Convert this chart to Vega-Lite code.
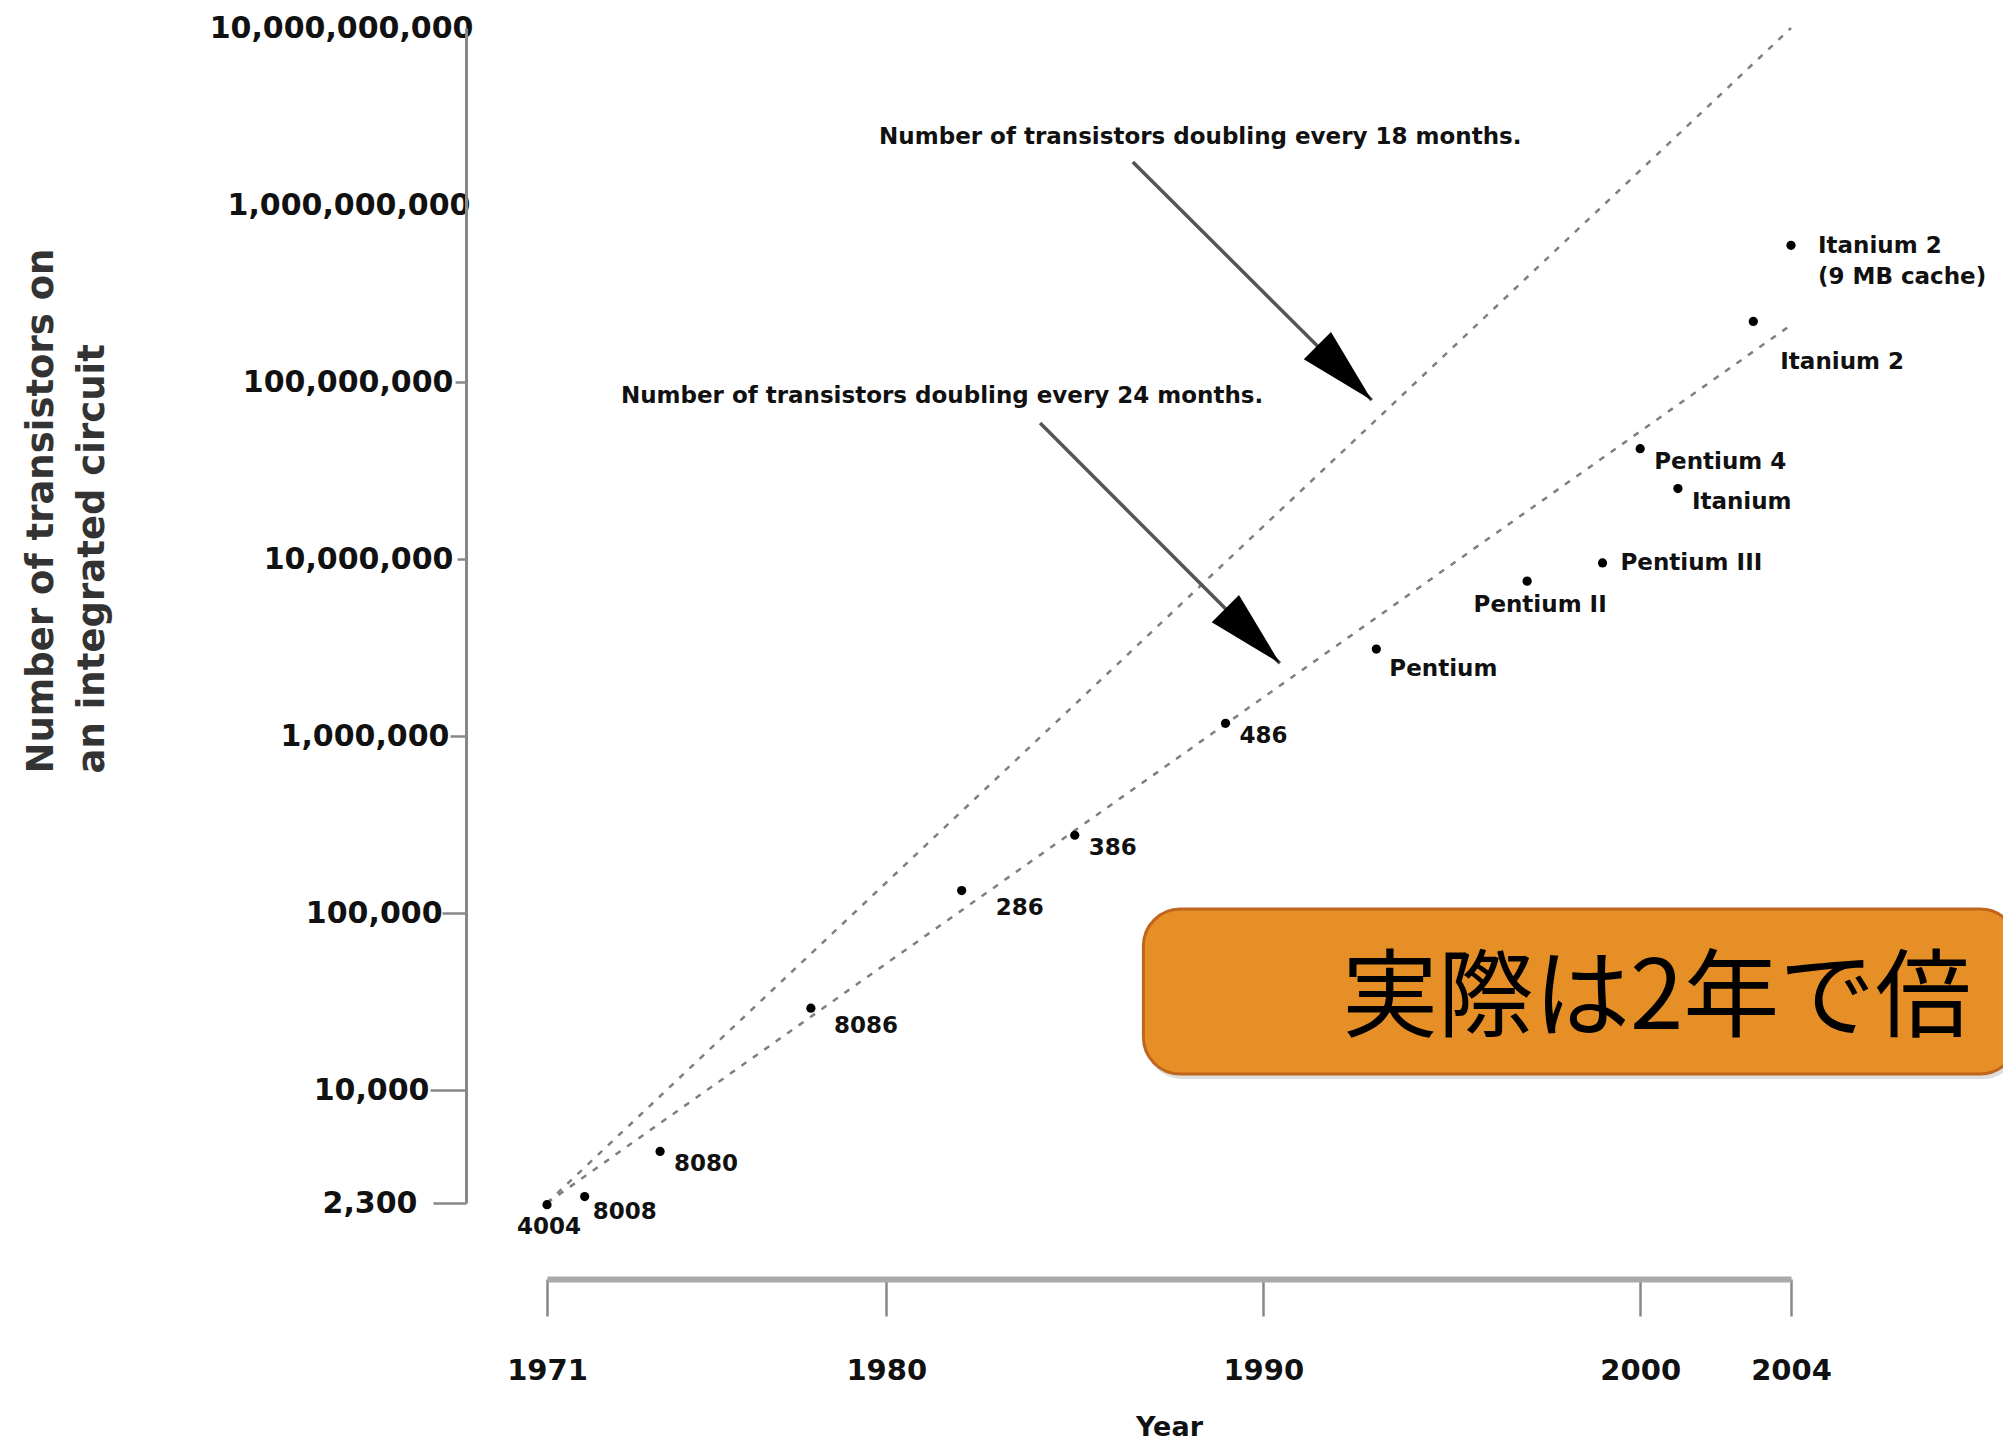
{
  "$schema": "https://vega.github.io/schema/vega-lite/v6.json",
  "width": 1244,
  "height": 1175,
  "autosize": {"type": "none"},
  "padding": {"left": 547, "top": 28, "right": 212, "bottom": 240},
  "background": "white",
  "config": {"view": {"stroke": null}, "font": "DejaVu Sans"},
  "datasets": {
    "cpus": [
      {"name": "4004", "year": 1971, "count": 2250},
      {"name": "8008", "year": 1972, "count": 2500},
      {"name": "8080", "year": 1974, "count": 4500},
      {"name": "8086", "year": 1978, "count": 29000},
      {"name": "286", "year": 1982, "count": 134000},
      {"name": "386", "year": 1985, "count": 275000},
      {"name": "486", "year": 1989, "count": 1180000},
      {"name": "Pentium", "year": 1993, "count": 3100000},
      {"name": "Pentium II", "year": 1997, "count": 7500000},
      {"name": "Pentium III", "year": 1999, "count": 9500000},
      {"name": "Pentium 4", "year": 2000, "count": 42000000},
      {"name": "Itanium", "year": 2001, "count": 25000000},
      {"name": "Itanium 2", "year": 2003, "count": 220000000},
      {"name": "Itanium 2\n(9 MB cache)", "year": 2004, "count": 592000000}
    ],
    "trend": [
      {"series": "18 months", "year": 1971, "count": 2300},
      {"series": "18 months", "year": 2004, "count": 10000000000},
      {"series": "24 months", "year": 1971, "count": 2300},
      {"series": "24 months", "year": 2004, "count": 210000000}
    ],
    "arrows": [
      {"arrow": "18 months", "part": "start", "year": 1986.54, "count": 1750000000},
      {"arrow": "18 months", "part": "tip", "year": 1992.88, "count": 79000000},
      {"arrow": "24 months", "part": "start", "year": 1984.08, "count": 58600000},
      {"arrow": "24 months", "part": "tip", "year": 1990.44, "count": 2580000}
    ],
    "notes": [
      {"kind": "note", "text": "Number of transistors doubling every 18 months.", "year": 1979.81, "count": 2420000000},
      {"kind": "note", "text": "Number of transistors doubling every 24 months.", "year": 1972.96, "count": 83400000},
      {"kind": "callout", "text": "実際は2年で倍", "year": 1992.09, "count": 32200}
    ],
    "box": [
      {"year": 1986.82, "year2": 2010, "count": 105300, "count2": 12310}
    ]
  },
  "encoding": {
    "x": {
      "field": "year",
      "type": "quantitative",
      "scale": {"domain": [1971, 2004], "nice": false, "zero": false},
      "axis": {
        "values": [1971, 1980, 1990, 2000, 2004],
        "format": "d",
        "offset": 76,
        "grid": false,
        "domainColor": "#aaaaaa",
        "domainWidth": 6,
        "tickColor": "#888888",
        "tickWidth": 2.5,
        "tickSize": 37,
        "labelPadding": 40,
        "labelFontSize": 29,
        "labelFontWeight": "bold",
        "labelColor": "#111111",
        "labelFlush": false,
        "labelOverlap": false,
        "title": "Year",
        "titleFontSize": 27,
        "titleFontWeight": "bold",
        "titleColor": "#111111",
        "titlePadding": 29
      }
    },
    "y": {
      "field": "count",
      "type": "quantitative",
      "scale": {"type": "log", "domain": [2300, 10000000000], "nice": false},
      "axis": {
        "values": [2300, 10000, 100000, 1000000, 10000000, 100000000, 1000000000, 10000000000],
        "format": ",d",
        "offset": 81,
        "grid": false,
        "domainColor": "#888888",
        "domainWidth": 3,
        "tickColor": "#888888",
        "tickWidth": 2.5,
        "tickSize": {
          "condition": [
            {"test": "datum.value > 5e8", "value": 0},
            {"test": "datum.value > 5e7", "value": 11},
            {"test": "datum.value > 5e6", "value": 9},
            {"test": "datum.value > 5e5", "value": 16},
            {"test": "datum.value > 5e4", "value": 24},
            {"test": "datum.value > 5e3", "value": 36}
          ],
          "value": 33
        },
        "labelPadding": {
          "condition": [
            {"test": "datum.value > 5e9", "value": -7},
            {"test": "datum.value > 5e8", "value": -4},
            {"test": "datum.value > 5e7", "value": 2},
            {"test": "datum.value > 5e6", "value": 4},
            {"test": "datum.value > 5e5", "value": 1},
            {"test": "datum.value > 5e4", "value": 0},
            {"test": "datum.value > 5e3", "value": 1}
          ],
          "value": 16
        },
        "labelFontSize": 30,
        "labelFontWeight": "bold",
        "labelColor": "#111111",
        "labelLimit": 600,
        "labelFlush": false,
        "labelOverlap": false,
        "title": ["Number of transistors on", "an integrated circuit"],
        "titleFontSize": 37,
        "titleFontWeight": "bold",
        "titleColor": "#333333",
        "titleAngle": 270,
        "titleAlign": "left",
        "titleBaseline": "middle",
        "titleLineHeight": 51,
        "titleLimit": 1000,
        "titleX": -425,
        "titleY": 745
      }
    }
  },
  "layer": [
    {
      "data": {"name": "trend"},
      "mark": {"type": "line", "stroke": "#7f7f7f", "strokeWidth": 2.5, "strokeDash": [6, 8]},
      "encoding": {"detail": {"field": "series"}}
    },
    {
      "data": {"name": "arrows"},
      "mark": {"type": "line", "stroke": "#555555", "strokeWidth": 3.5},
      "encoding": {"detail": {"field": "arrow"}}
    },
    {
      "data": {"name": "arrows"},
      "transform": [{"filter": "datum.part == 'tip'"}],
      "mark": {"type": "point", "shape": "M0,0L-1,-0.25L-1,0.25Z", "size": 23716, "angle": 45, "filled": true, "color": "#000000", "opacity": 1, "strokeWidth": 0}
    },
    {
      "data": {"name": "notes"},
      "transform": [{"filter": "datum.kind == 'note'"}],
      "mark": {"type": "text", "align": "left", "baseline": "middle", "fontSize": 23, "fontWeight": "bold", "color": "#111111"},
      "encoding": {"text": {"field": "text"}}
    },
    {
      "data": {"name": "cpus"},
      "mark": {"type": "point", "shape": "circle", "filled": true, "color": "#000000", "size": 85, "opacity": 1}
    },
    {
      "data": {"name": "cpus"},
      "transform": [{"filter": {"field": "name", "oneOf": ["8080", "386", "486", "Pentium 4", "Itanium"]}}],
      "mark": {"type": "text", "align": "left", "baseline": "middle", "dx": 14, "dy": 13, "fontSize": 23, "fontWeight": "bold", "color": "#111111"},
      "encoding": {"text": {"field": "name"}}
    },
    {
      "data": {"name": "cpus"},
      "transform": [{"filter": {"field": "name", "equal": "8008"}}],
      "mark": {"type": "text", "align": "left", "baseline": "middle", "dx": 8, "dy": 15, "fontSize": 23, "fontWeight": "bold", "color": "#111111"},
      "encoding": {"text": {"field": "name"}}
    },
    {
      "data": {"name": "cpus"},
      "transform": [{"filter": {"field": "name", "equal": "8086"}}],
      "mark": {"type": "text", "align": "left", "baseline": "middle", "dx": 23, "dy": 18, "fontSize": 23, "fontWeight": "bold", "color": "#111111"},
      "encoding": {"text": {"field": "name"}}
    },
    {
      "data": {"name": "cpus"},
      "transform": [{"filter": {"field": "name", "equal": "Pentium"}}],
      "mark": {"type": "text", "align": "left", "baseline": "middle", "dx": 13, "dy": 20, "fontSize": 23, "fontWeight": "bold", "color": "#111111"},
      "encoding": {"text": {"field": "name"}}
    },
    {
      "data": {"name": "cpus"},
      "transform": [{"filter": {"field": "name", "equal": "286"}}],
      "mark": {"type": "text", "align": "left", "baseline": "middle", "dx": 34, "dy": 17, "fontSize": 23, "fontWeight": "bold", "color": "#111111"},
      "encoding": {"text": {"field": "name"}}
    },
    {
      "data": {"name": "cpus"},
      "transform": [{"filter": {"field": "name", "equal": "4004"}}],
      "mark": {"type": "text", "align": "center", "baseline": "middle", "dx": 2, "dy": 22, "fontSize": 23, "fontWeight": "bold", "color": "#111111"},
      "encoding": {"text": {"field": "name"}}
    },
    {
      "data": {"name": "cpus"},
      "transform": [{"filter": {"field": "name", "equal": "Pentium II"}}],
      "mark": {"type": "text", "align": "center", "baseline": "middle", "dx": 13, "dy": 24, "fontSize": 23, "fontWeight": "bold", "color": "#111111"},
      "encoding": {"text": {"field": "name"}}
    },
    {
      "data": {"name": "cpus"},
      "transform": [{"filter": {"field": "name", "equal": "Pentium III"}}],
      "mark": {"type": "text", "align": "left", "baseline": "middle", "dx": 18, "dy": 0, "fontSize": 23, "fontWeight": "bold", "color": "#111111"},
      "encoding": {"text": {"field": "name"}}
    },
    {
      "data": {"name": "cpus"},
      "transform": [{"filter": {"field": "name", "equal": "Itanium 2"}}],
      "mark": {"type": "text", "align": "left", "baseline": "middle", "dx": 27, "dy": 41, "fontSize": 23, "fontWeight": "bold", "color": "#111111"},
      "encoding": {"text": {"field": "name"}}
    },
    {
      "data": {"name": "cpus"},
      "transform": [{"filter": "indexof(datum.name, 'cache') >= 0"}],
      "mark": {"type": "text", "align": "left", "baseline": "middle", "dx": 27, "dy": 1, "fontSize": 23, "fontWeight": "bold", "color": "#111111", "lineBreak": "\n", "lineHeight": 31},
      "encoding": {"text": {"field": "name"}}
    },
    {
      "data": {"name": "box"},
      "mark": {"type": "rect", "fill": "#000000", "opacity": 0.13, "cornerRadius": 37, "xOffset": 2, "x2Offset": 2, "yOffset": 5, "y2Offset": 5},
      "encoding": {"x2": {"field": "year2"}, "y2": {"field": "count2"}}
    },
    {
      "data": {"name": "box"},
      "mark": {"type": "rect", "fill": "#e68f27", "stroke": "#c0661c", "strokeWidth": 3, "cornerRadius": 37, "opacity": 1},
      "encoding": {"x2": {"field": "year2"}, "y2": {"field": "count2"}}
    },
    {
      "data": {"name": "notes"},
      "transform": [{"filter": "datum.kind == 'callout'"}],
      "mark": {"type": "text", "align": "left", "baseline": "middle", "font": "Noto Sans CJK JP", "fontSize": 96, "color": "#000000"},
      "encoding": {"text": {"field": "text"}}
    }
  ]
}
